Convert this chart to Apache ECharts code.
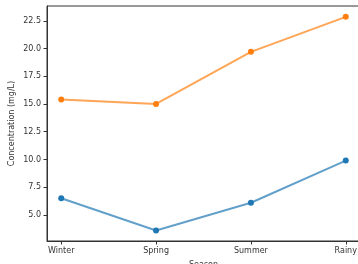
<!DOCTYPE html>
<html><head><meta charset="utf-8">
<script src="https://cdn.jsdelivr.net/npm/echarts@6/dist/echarts.min.js"></script>
<style>html,body{margin:0;padding:0;background:#fff}#c{width:358px;height:264px}</style>
</head><body><div id="c"></div>
<script>
const categories = ['Winter', 'Spring', 'Summer', 'Rainy'];
const seriesA = [6.5, 3.6, 6.1, 9.9];
const seriesB = [15.4, 15.0, 19.7, 22.85];
const yTicks = [5.0, 7.5, 10.0, 12.5, 15.0, 17.5, 20.0, 22.5];

const font = 'DejaVu Sans';
const axisColor = '#333';
const chart = echarts.init(document.getElementById('c'), null, {renderer: 'canvas'});
chart.setOption({
  animation: false,
  grid: {left: 47, top: 6, width: 313, height: 235, show: true, borderColor: axisColor, borderWidth: 1,
    backgroundColor: 'transparent', outerBoundsMode: 'none', containLabel: false},
  xAxis: {
    type: 'value', min: -0.15, max: 3.15,
    name: 'Season', nameLocation: 'middle', nameGap: 20, nameMoveOverlap: false,
    nameTextStyle: {fontFamily: font, fontSize: 8, color: '#333'},
    axisLine: {show: true, onZero: false, lineStyle: {color: axisColor, width: 1}},
    axisTick: {show: true, length: 3.5, customValues: [0,1,2,3], lineStyle: {color: axisColor}},
    axisLabel: {customValues: [0,1,2,3], margin: 6, fontFamily: font, fontSize: 8, color: '#333',
      formatter: v => categories[Math.round(v)]},
    splitLine: {show: false}
  },
  yAxis: {
    type: 'value', min: 2.65, max: 23.83,
    name: 'Concentration (mg/L)', nameLocation: 'middle', nameGap: 31, nameMoveOverlap: false,
    nameTextStyle: {fontFamily: font, fontSize: 8, color: '#333'},
    axisLine: {show: true, onZero: false, lineStyle: {color: axisColor, width: 1}},
    axisTick: {show: true, length: 3.5, customValues: yTicks, lineStyle: {color: axisColor}},
    axisLabel: {customValues: yTicks, margin: 6, fontFamily: font, fontSize: 8, color: '#333',
      formatter: v => v.toFixed(1)},
    splitLine: {show: false}
  },
  series: [
    {type: 'line', data: seriesA.map((v, i) => [i, v]), symbol: 'circle', symbolSize: 6,
     itemStyle: {color: '#1f77b4'}, lineStyle: {color: 'rgba(31,119,180,0.7)', width: 2}},
    {type: 'line', data: seriesB.map((v, i) => [i, v]), symbol: 'circle', symbolSize: 6,
     itemStyle: {color: '#ff7f0e'}, lineStyle: {color: 'rgba(255,127,14,0.7)', width: 2}}
  ]
});
</script></body></html>
